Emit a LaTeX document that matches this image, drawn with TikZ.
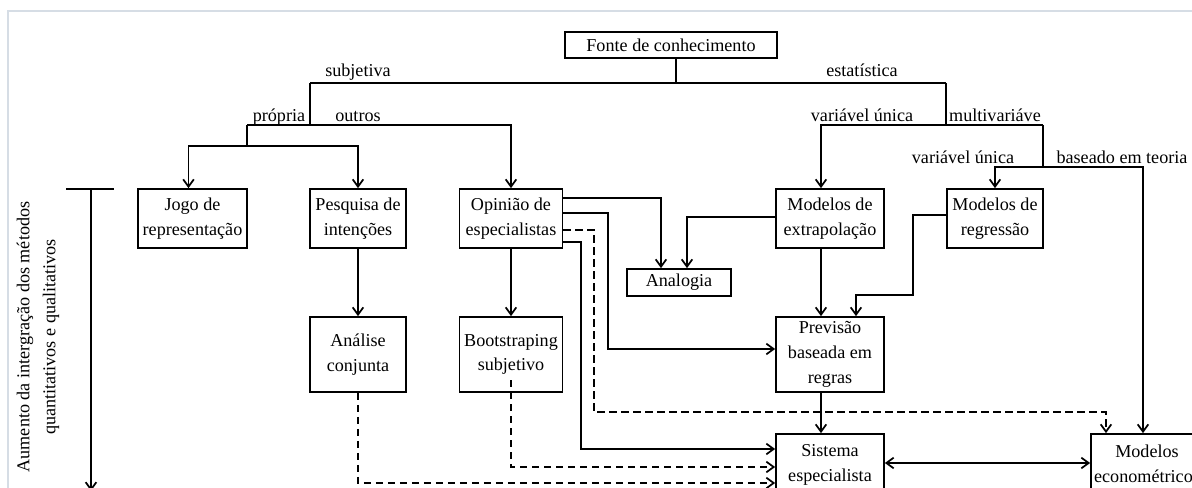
\documentclass[tikz,border=0pt]{standalone}
\usepackage{fontspec}
\setmainfont{Liberation Serif}
\usetikzlibrary{arrows.meta,positioning}
\definecolor{moldura}{RGB}{214,221,229}

\begin{document}
\begin{tikzpicture}[x=0.75pt,y=-0.75pt,
  font=\fontsize{13.6}{18.5}\selectfont,
  >={Straight Barb[length=5.5pt,width=8pt]},
  caixa/.style={draw,line width=1.3pt,align=center,inner sep=1pt},
  linha/.style={line width=1.3pt},
  seta/.style={linha,->},
  tracejado/.style={dash pattern=on 5.5pt off 3.5pt},
  rotulo/.style={anchor=base,inner sep=0pt}]

 \useasboundingbox (0,0) rectangle (1192,488);
 \clip (0,0) rectangle (1192,488);

 %Frame
 \draw[moldura,line width=0.9pt] (1192,11) -- (8,11) -- (8,488);

 %Coordinates
 \coordinate (raiz) at (676,83);
 \coordinate (subj) at (310,83);
 \coordinate (estat) at (946,83);
 \coordinate (outrosB) at (310,125);
 \coordinate (propria) at (247,125);
 \coordinate (propriaB) at (247,146);
 \coordinate (unica) at (946,125);
 \coordinate (multi) at (1043,125);
 \coordinate (multiB) at (1043,167);
 \coordinate (eixoTopo) at (91,189);
 \coordinate (eixoFim) at (91,491);

 %Boxes
 \node[caixa,minimum width=159pt,minimum height=19.5pt] (fonte) at (671,45) {Fonte de conhecimento};
 \node[caixa,minimum width=81.75pt,minimum height=44.25pt] (jogo) at (192.5,218.5) {Jogo de\\representação};
 \node[caixa,minimum width=72pt,minimum height=44.25pt] (pesquisa) at (358,218.5) {Pesquisa de\\intenções};
 \node[caixa,minimum width=77.25pt,minimum height=44.25pt] (opiniao) at (511,218.5) {Opinião de\\especialistas};
 \node[caixa,minimum width=81pt,minimum height=44.25pt] (extrap) at (830,218.5) {Modelos de\\extrapolação};
 \node[caixa,minimum width=72pt,minimum height=44.25pt] (regressao) at (995,218.5) {Modelos de\\regressão};
 \node[caixa,minimum width=78pt,minimum height=20.25pt] (analogia) at (679,282.5) {Analogia};
 \node[caixa,minimum width=72pt,minimum height=56.25pt] (analise) at (358,354.5) {Análise\\conjunta};
 \node[caixa,minimum width=77.25pt,minimum height=56.25pt] (bootstrap) at (511,354.5) {Bootstraping\\subjetivo};
 \node[caixa,minimum width=81pt,minimum height=56.25pt] (previsao) at (830,354.5) {Previsão\\baseada em\\regras};
 \node[caixa,minimum width=81pt,minimum height=46.5pt] (sistema) at (830,465) {Sistema\\especialista};
 \node[caixa,minimum width=84pt,minimum height=44.25pt] (econo) at (1147,463.5) {Modelos\\econométricos};

 %Names
 \node[rotulo] (subjetiva) at (358,77) {subjetiva};
 \node[rotulo] (estatistica) at (862,77) {estatística};
 \node[rotulo] (propriaT) at (279,122) {própria};
 \node[rotulo] (outrosT) at (358,122) {outros};
 \node[rotulo] (unicaT) at (862,122) {variável única};
 \node[rotulo] (multiT) at (995,122) {multivariáve};
 \node[rotulo] (unicaB) at (963,164) {variável única};
 \node[rotulo] (teoria) at (1122,164) {baseado em teoria};
 \node[rotate=90,align=center,font=\fontsize{13.6}{19.5}\selectfont] (eixoTexto) at (38,337) {Aumento da intergração dos métodos\\quantitativos e qualitativos};

 %Tree
 \draw[linha] (raiz |- fonte.south) -- (raiz);
 \draw[linha] (subj) -- (estat);
 \draw[linha] (subj) -- (outrosB);
 \draw[seta] (propria) -| (opiniao.north);
 \draw[linha] (propria) -- (propriaB);
 \draw[seta] (propriaB) -| ([xshift=-3pt]jogo.north);
 \draw[seta] (propriaB) -| (pesquisa.north);
 \draw[linha] (estat) -- (unica);
 \draw[seta] (multi) -| ([xshift=-6.75pt]extrap.north);
 \draw[linha] (multi) -- (multiB);
 \draw[seta] (multiB) -| (regressao.north);
 \draw[seta] (multiB) -| ([xshift=-3pt]econo.north);

 %Opiniao
 \draw[seta] (opiniao.east |- 0,198) -| (analogia.north -| 661,0);
 \draw[seta] (opiniao.east |- 0,213) -| (608,349) -- (previsao.west |- 0,349);
 \draw[seta,tracejado] (opiniao.east |- 0,230) -| (594,412) -| (econo.north -| 1106,0);
 \draw[seta] (opiniao.east |- 0,242) -| (581,449) -- (sistema.west |- 0,449);
 \draw[seta] (opiniao) -- (bootstrap);
 \draw[seta] (pesquisa) -- (analise);
 \draw[seta,tracejado] (bootstrap.south |- 0,380) |- (sistema.west |- 0,467);
 \draw[seta,tracejado] (analise.south) |- (sistema.west |- 0,483);

 %Estatistica
 \draw[seta] (extrap.west |- 0,217) -| (analogia.north -| 687,0);
 \draw[seta] (extrap.south -| 821,0) -- (previsao.north -| 821,0);
 \draw[seta] (regressao.west |- 0,215) -| (913,295) -| (previsao.north -| 856,0);
 \draw[seta] (previsao.south -| 821,0) -- (sistema.north -| 821,0);
 \draw[linha,<->] (sistema.east |- 0,463) -- (econo.west |- 0,463);

 %Axis
 \draw[linha] (66,189) -- (114,189);
 \draw[seta] (eixoTopo) -- (eixoFim);

\end{tikzpicture}
\end{document}
